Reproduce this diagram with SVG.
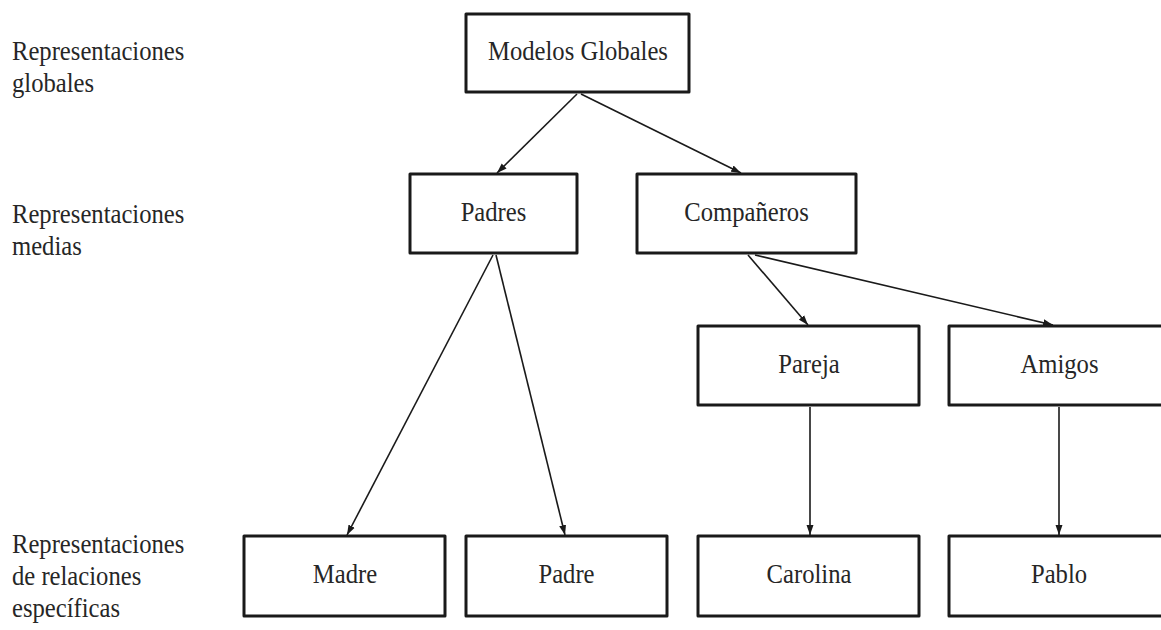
<svg xmlns="http://www.w3.org/2000/svg" width="1161" height="630" viewBox="0 0 1161 630">
  <style>
    .box { fill: #ffffff; stroke: #1a1a1a; stroke-width: 3; stroke-linejoin: round; }
    .lbl { font-family: "Liberation Serif", "Times New Roman", serif; font-size: 28px; fill: #262626; }
    .mid { text-anchor: middle; }
    .edge { stroke: #1a1a1a; stroke-width: 1.6; fill: none; marker-end: url(#arrow); }
  </style>
  <defs>
    <marker id="arrow" markerUnits="userSpaceOnUse" markerWidth="10" markerHeight="8" refX="10" refY="4" orient="auto">
      <path d="M0,0.5 L10,4 L0,7.5 Z" fill="#1a1a1a"/>
    </marker>
  </defs>
  <rect width="1161" height="630" fill="#ffffff"/>

  <!-- level captions on the left -->
  <g id="level-labels">
    <text class="lbl" transform="matrix(0.88 0 0 1 12 60)">Representaciones</text>
    <text class="lbl" transform="matrix(0.88 0 0 1 12 92)">globales</text>
    <text class="lbl" transform="matrix(0.88 0 0 1 12 223)">Representaciones</text>
    <text class="lbl" transform="matrix(0.88 0 0 1 12 255)">medias</text>
    <text class="lbl" transform="matrix(0.88 0 0 1 12 553)">Representaciones</text>
    <text class="lbl" transform="matrix(0.88 0 0 1 12 585)">de relaciones</text>
    <text class="lbl" transform="matrix(0.88 0 0 1 12 617)">específicas</text>
  </g>

  <!-- connectors -->
  <g id="connectors">
    <line class="edge" x1="577" y1="94" x2="497" y2="173"/>
    <line class="edge" x1="581" y1="94" x2="741" y2="173"/>
    <line class="edge" x1="493" y1="255" x2="347" y2="535"/>
    <line class="edge" x1="496" y1="255" x2="565" y2="535"/>
    <line class="edge" x1="748" y1="255" x2="808" y2="325"/>
    <line class="edge" x1="755" y1="255" x2="1053" y2="325"/>
    <line class="edge" x1="810" y1="407" x2="810" y2="535"/>
    <line class="edge" x1="1059" y1="407" x2="1059" y2="535"/>
  </g>

  <!-- nodes -->
  <g id="modelos-globales">
    <rect class="box" x="466" y="14" width="223" height="78"/>
    <text class="lbl mid" transform="matrix(0.88 0 0 1 578 60)">Modelos Globales</text>
  </g>
  <g id="padres">
    <rect class="box" x="410" y="174" width="167" height="79"/>
    <text class="lbl mid" transform="matrix(0.88 0 0 1 493.5 221)">Padres</text>
  </g>
  <g id="companeros">
    <rect class="box" x="637" y="174" width="219" height="79"/>
    <text class="lbl mid" transform="matrix(0.88 0 0 1 746.5 221)">Compañeros</text>
  </g>
  <g id="pareja">
    <rect class="box" x="698" y="326" width="221" height="79"/>
    <text class="lbl mid" transform="matrix(0.88 0 0 1 809 373)">Pareja</text>
  </g>
  <g id="amigos">
    <rect class="box" x="949" y="326" width="221" height="79"/>
    <text class="lbl mid" transform="matrix(0.88 0 0 1 1059.5 373)">Amigos</text>
  </g>
  <g id="madre">
    <rect class="box" x="244" y="536" width="201" height="80"/>
    <text class="lbl mid" transform="matrix(0.88 0 0 1 345 583)">Madre</text>
  </g>
  <g id="padre">
    <rect class="box" x="466" y="536" width="201" height="80"/>
    <text class="lbl mid" transform="matrix(0.88 0 0 1 566.5 583)">Padre</text>
  </g>
  <g id="carolina">
    <rect class="box" x="698" y="536" width="221" height="80"/>
    <text class="lbl mid" transform="matrix(0.88 0 0 1 809 583)">Carolina</text>
  </g>
  <g id="pablo">
    <rect class="box" x="949" y="536" width="221" height="80"/>
    <text class="lbl mid" transform="matrix(0.88 0 0 1 1059 583)">Pablo</text>
  </g>
</svg>
